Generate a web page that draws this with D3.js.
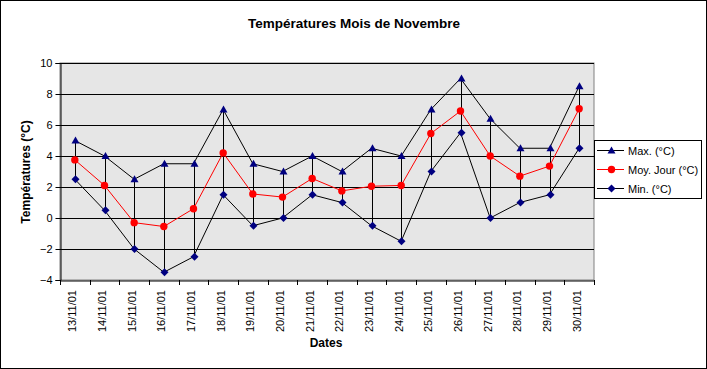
<!DOCTYPE html>
<html><head><meta charset="utf-8">
<script src="https://cdn.jsdelivr.net/npm/d3@7"></script>
<style>body{margin:0;background:#fff}svg{display:block}text{font-family:"Liberation Sans",Arial,sans-serif}</style>
</head><body>
<script>
const dates = ["13/11/01","14/11/01","15/11/01","16/11/01","17/11/01","18/11/01","19/11/01","20/11/01","21/11/01","22/11/01","23/11/01","24/11/01","25/11/01","26/11/01","27/11/01","28/11/01","29/11/01","30/11/01"];
const maxT = [5, 4, 2.5, 3.5, 3.5, 7, 3.5, 3, 4, 3, 4.5, 4, 7, 9, 6.4, 4.5, 4.5, 8.5];
const moyT = [3.75, 2.1, -0.3, -0.55, 0.6, 4.2, 1.55, 1.35, 2.55, 1.75, 2.05, 2.1, 5.45, 6.9, 4.0, 2.7, 3.35, 7.05];
const minT = [2.5, 0.5, -2, -3.5, -2.5, 1.5, -0.5, 0, 1.5, 1, -0.5, -1.5, 3, 5.5, 0, 1, 1.5, 4.5];
const yTicks = [-4, -2, 0, 2, 4, 6, 8, 10];
const seriesNames = ["Max. (°C)", "Moy. Jour (°C)", "Min. (°C)"];

const W = 707, H = 369;
const pl = 60, pr = 594, pt = 63, pb = 280;
const svg = d3.select("body").append("svg").attr("width", W).attr("height", H);
svg.append("rect").attr("x",0.5).attr("y",0.5).attr("width",W-1).attr("height",H-1).attr("fill","#fff").attr("stroke","#000");

const x = d3.scaleBand().domain(dates).range([pl, pr]);
const y = d3.scaleLinear().domain([-4, 10]).range([pb, pt]);
const cx = d => x(d) + x.bandwidth()/2;

svg.append("rect").attr("x", pl).attr("y", pt).attr("width", pr-pl).attr("height", pb-pt).attr("fill", "#e6e6e6").attr("stroke", "#808080");

// gridlines
svg.append("g").selectAll("line").data(yTicks.filter(v => v > -4 && v < 10)).join("line")
  .attr("x1", pl).attr("x2", pr).attr("y1", d => Math.round(y(d))+0.5).attr("y2", d => Math.round(y(d))+0.5)
  .attr("stroke", "#000").attr("stroke-width", 1);
svg.append("line").attr("x1", pl).attr("x2", pr).attr("y1", pt+0.5).attr("y2", pt+0.5).attr("stroke","#000");

// axes
const yAxis = d3.axisLeft(y).tickValues(yTicks).tickSize(5).tickPadding(3);
const gy = svg.append("g").attr("transform", `translate(${pl+0.5},0)`).call(yAxis);
gy.selectAll("text").attr("font-size", 11).attr("fill", "#000");
gy.selectAll("line,path").attr("stroke", "#000");

const xAxis = d3.axisBottom(x).tickSize(0).tickFormat("");
const gx = svg.append("g").attr("transform", `translate(0,${pb+0.5})`).call(xAxis);
gx.select("path").attr("stroke", "#000");
svg.append("g").selectAll("line").data(dates.concat(["end"])).join("line")
  .attr("x1", (d,i) => Math.round(pl + i*x.bandwidth())+0.5).attr("x2", (d,i) => Math.round(pl + i*x.bandwidth())+0.5)
  .attr("y1", pb).attr("y2", pb+5).attr("stroke", "#000");
svg.append("g").selectAll("text").data(dates).join("text")
  .attr("transform", d => `translate(${cx(d)+1.5},${pb+10}) rotate(-90)`)
  .attr("text-anchor", "end").attr("font-size", 11).text(d => d);

// high-low lines
svg.append("g").selectAll("line").data(dates).join("line")
  .attr("x1", d => Math.round(cx(d))+0.5).attr("x2", d => Math.round(cx(d))+0.5)
  .attr("y1", (d,i) => y(maxT[i])).attr("y2", (d,i) => y(minT[i]))
  .attr("stroke", "#000").attr("stroke-width", 1);

const line = d3.line().x((d,i) => cx(dates[i])).y(d => y(d));
svg.append("path").datum(maxT).attr("d", line).attr("fill","none").attr("stroke","#000").attr("stroke-width",1);
svg.append("path").datum(minT).attr("d", line).attr("fill","none").attr("stroke","#000").attr("stroke-width",1);
svg.append("path").datum(moyT).attr("d", line).attr("fill","none").attr("stroke","#ff0000").attr("stroke-width",1);

const navy = "#000080";
const triPath = "M0,-4L4,3L-4,3Z";
const diaPath = "M0,-4L4,0L0,4L-4,0Z";
svg.append("g").selectAll("path").data(maxT).join("path")
  .attr("transform", (d,i) => `translate(${Math.round(cx(dates[i]))+0.5},${y(d)})`).attr("d", triPath).attr("fill", navy);
svg.append("g").selectAll("path").data(minT).join("path")
  .attr("transform", (d,i) => `translate(${Math.round(cx(dates[i]))+0.5},${y(d)})`).attr("d", diaPath).attr("fill", navy);
svg.append("g").selectAll("circle").data(moyT).join("circle")
  .attr("cx", (d,i) => cx(dates[i])).attr("cy", d => y(d)).attr("r", 3.7).attr("fill", "#ff0000");

// title and axis titles
svg.append("text").attr("x", 354).attr("y", 28).attr("text-anchor","middle").attr("font-size",13).attr("font-weight","bold")
  .attr("textLength", 212).attr("lengthAdjust","spacingAndGlyphs").text("Températures Mois de Novembre");
svg.append("text").attr("transform", "translate(30,172) rotate(-90)").attr("text-anchor","middle").attr("font-size",12).attr("font-weight","bold").text("Températures (°C)");
svg.append("text").attr("x", 326).attr("y", 347).attr("text-anchor","middle").attr("font-size",12).attr("font-weight","bold").text("Dates");

// legend
const lg = svg.append("g");
lg.append("rect").attr("x", 594.5).attr("y", 140.5).attr("width", 107).attr("height", 58).attr("fill","#fff").attr("stroke","#000");
const rows = [150, 169, 188];
const colors = ["#000", "#ff0000", "#000"];
seriesNames.forEach((n, i) => {
  lg.append("line").attr("x1", 597).attr("x2", 624).attr("y1", rows[i]+0.5).attr("y2", rows[i]+0.5).attr("stroke", colors[i]);
  if (i === 0) lg.append("path").attr("transform", `translate(611.5,${rows[i]+0.5})`).attr("d", triPath).attr("fill", navy);
  if (i === 1) lg.append("circle").attr("cx", 611.5).attr("cy", rows[i]+0.5).attr("r", 3.7).attr("fill", "#ff0000");
  if (i === 2) lg.append("path").attr("transform", `translate(611.5,${rows[i]+0.5})`).attr("d", diaPath).attr("fill", navy);
  lg.append("text").attr("x", 628).attr("y", rows[i]+4.5).attr("font-size", 11).text(n);
});
</script>
</body></html>
